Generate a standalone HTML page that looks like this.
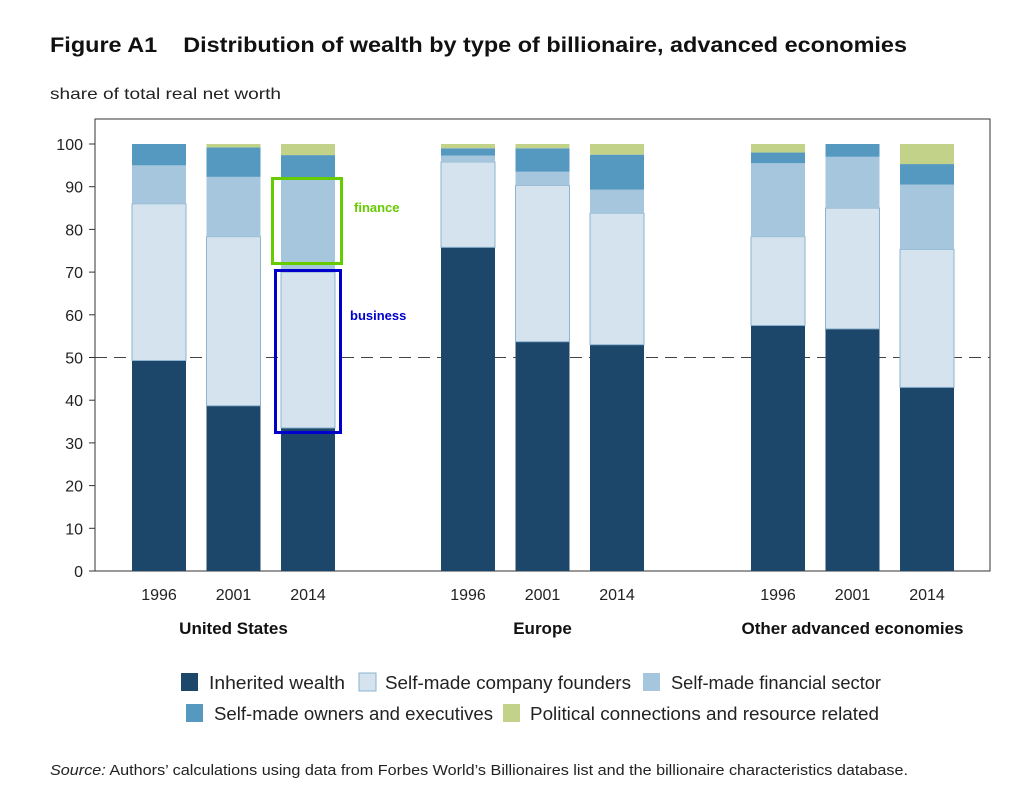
<!DOCTYPE html>
<html><head><meta charset="utf-8"><style>
body{margin:0;background:#fff;}
svg text{font-family:"Liberation Sans",sans-serif;}
</style></head><body>
<svg id="chart" width="1016" height="791" xmlns="http://www.w3.org/2000/svg">
<text x="50" y="52" font-size="21" font-weight="bold" fill="#111" textLength="857" lengthAdjust="spacingAndGlyphs">Figure A1 &#160;&#160; Distribution of wealth by type of billionaire, advanced economies</text>
<text x="50" y="99" font-size="16" fill="#222" textLength="231" lengthAdjust="spacingAndGlyphs">share of total real net worth</text>
<rect x="95" y="119" width="895" height="452" fill="none" stroke="#333" stroke-width="1"/>
<g id="grid"></g>
<g id="bars"></g>
<g id="labels"></g>
<rect x="272.5" y="178.5" width="69" height="85" fill="none" stroke="#66cc00" stroke-width="3"/>
<text x="354" y="212" font-size="13" font-weight="bold" fill="#66cc00">finance</text>
<rect x="275.5" y="270.5" width="65" height="162" fill="none" stroke="#0000cc" stroke-width="3"/>
<text x="350" y="320" font-size="13" font-weight="bold" fill="#0000cc">business</text>
<g id="legend"></g>
<text x="50" y="775" font-size="15" fill="#222" textLength="858" lengthAdjust="spacingAndGlyphs"><tspan font-style="italic">Source:</tspan> Authors’ calculations using data from Forbes World’s Billionaires list and the billionaire characteristics database.</text>
</svg>
<script>
const groups = ["United States","Europe","Other advanced economies"];
const years = ["1996","2001","2014"];
const seriesNames = ["Inherited wealth","Self-made company founders","Self-made financial sector","Self-made owners and executives","Political connections and resource related"];
const inherited = [49.3,38.7,33.5, 75.8,53.7,53.0, 57.5,56.7,43.0];
const founders  = [36.7,39.6,36.5, 20.0,36.6,30.8, 20.8,28.3,32.3];
const financial = [9.0,14.0,22.0, 1.5,3.2,5.5, 17.2,12.0,15.2];
const owners    = [5.0,6.9,5.4, 1.7,5.5,8.2, 2.5,3.0,4.8];
const political = [0,0.8,2.6, 1.0,1.0,2.5, 2.0,0,4.7];
const yTicks = [0,10,20,30,40,50,60,70,80,90,100];

const colors = ["#1c476b","#d5e3ee","#a5c6dc","#5598c0","#c2d389"];
const NS="http://www.w3.org/2000/svg";
function y(v){return 571 - v*4.27;}
const groupX=[132,441,751], step=74.5, bw=54;
function barX(i){return groupX[Math.floor(i/3)] + (i%3)*step;}
function mk(tag,attrs,parent){const e=document.createElementNS(NS,tag);for(const k in attrs)e.setAttribute(k,attrs[k]);parent.appendChild(e);return e;}
const grid=document.getElementById('grid'), bars=document.getElementById('bars'), labels=document.getElementById('labels'), legend=document.getElementById('legend');
yTicks.forEach(t=>{
  const tk=mk('line',{x1:89,x2:95,y1:y(t),y2:y(t),stroke:'#333'},grid);
  
  
  const tx=mk('text',{x:83,y:y(t)+6,'font-size':16,'text-anchor':'end',fill:'#222'},labels);
  tx.textContent=t;
  
  
});
const ref=mk('line',{x1:95,x2:990,y1:y(50),y2:y(50),stroke:'#444','stroke-dasharray':'12,7'},grid);


const all=[inherited,founders,financial,owners,political];
for(let i=0;i<9;i++){
  let base=0;
  all.forEach((s,k)=>{
    const v=s[i]; if(v<=0){return;}
    const r=mk('rect',{x:barX(i),y:y(base+v),width:bw,height:v*4.27,fill:colors[k],stroke:k==1?'#8db3cf':'none','stroke-width':1},bars);
    
    
    base+=v;
  });
  const yl=mk('text',{x:barX(i)+bw/2,y:600,'font-size':16,'text-anchor':'middle',fill:'#222'},labels);
  yl.textContent=years[i%3];
  
  
}
groups.forEach((g,j)=>{
  const t=mk('text',{x:groupX[j]+step+bw/2,y:634,'font-size':17,'font-weight':'bold','text-anchor':'middle',fill:'#111'},labels);
  t.textContent=g;
  
  
});
const legPos=[[181,673,209,136],[359,673,385,246],[643,673,671,210],[186,704,214,279],[503,704,530,349]];
seriesNames.forEach((n,k)=>{
  const p=legPos[k];
  const sw=mk('rect',{x:p[0],y:p[1],width:17,height:18,fill:colors[k],stroke:k==1?'#8db3cf':'none'},legend);
  
  
  const t=mk('text',{x:p[2],y:p[1]+16,'font-size':18,fill:'#222',textLength:p[3],lengthAdjust:'spacingAndGlyphs'},legend);
  t.textContent=n;
  
  
});
</script>
</body></html>
